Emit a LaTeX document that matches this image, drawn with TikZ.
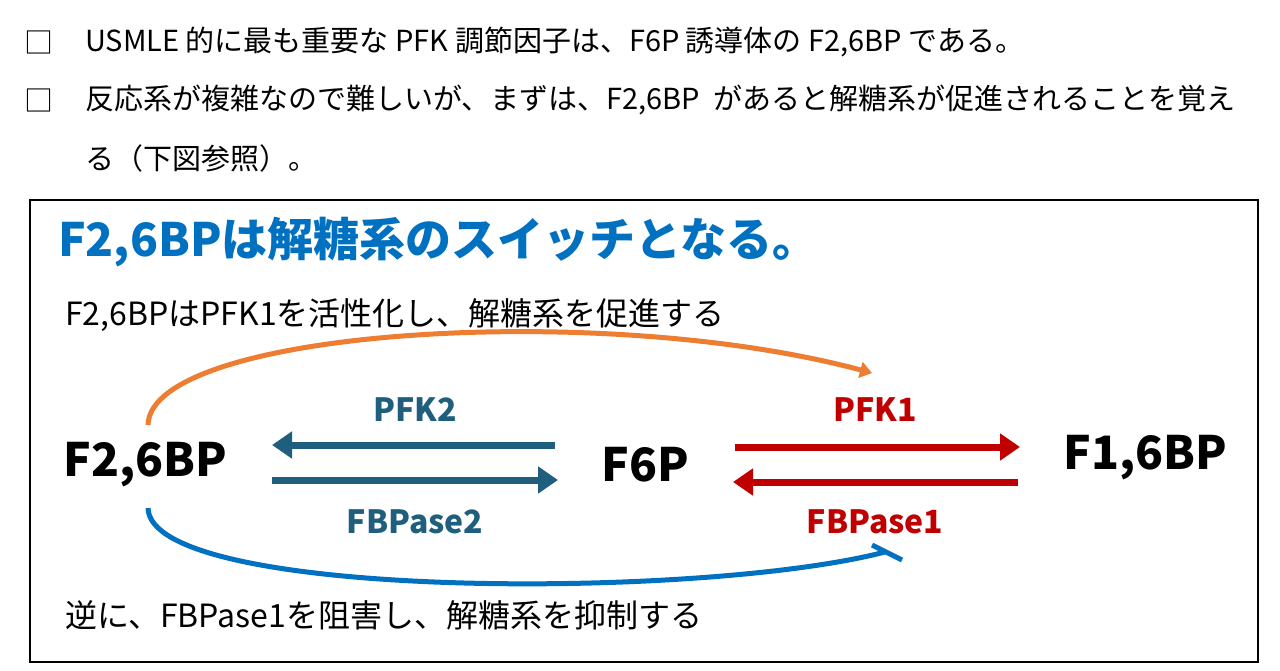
\documentclass[tikz,border=0pt]{standalone}
\usepackage{fontspec}
\setmainfont{Noto Sans CJK JP}
\usetikzlibrary{arrows.meta}
\definecolor{tblue}{RGB}{0,112,192}
\definecolor{teal2}{RGB}{31,95,125}
\definecolor{dred}{RGB}{192,0,0}
\definecolor{orng}{RGB}{237,125,49}
\tikzset{x=1pt,y=-1pt,
 txt/.style={anchor=west,inner sep=0,font=\fontsize{29}{32}\selectfont},
 mol/.style={font=\bfseries\fontsize{46}{50}\selectfont,inner sep=0},
 lab/.style={font=\bfseries\fontsize{32}{36}\selectfont,inner sep=0},
 tarr/.style={line width=7pt,-{Triangle[length=20pt,width=26pt]}},
}
\begin{document}
\begin{tikzpicture}
\useasboundingbox (0,0) rectangle (1280,670);
\node[txt] (c1) at (24,42) {□};
\node[txt] (l1) at (85,42) {USMLE 的に最も重要な PFK 調節因子は、F6P 誘導体の F2,6BP である。};
\node[txt] (c2) at (24,100) {□};
\node[txt] (l2) at (85,100) {反応系が複雑なので難しいが、まずは、F2,6BP\ \ があると解糖系が促進されることを覚え};
\node[txt] (l3) at (85,158) {る（下図参照）。};
\draw[line width=1.5pt] (30,200) rectangle (1258,662);
\node[anchor=west,inner sep=0,text=tblue,font=\bfseries\fontsize{46}{50}\selectfont] (tt) at (58,242) {F2,6BPは解糖系のスイッチとなる。};
\node[anchor=west,inner sep=0,font=\fontsize{32}{36}\selectfont] (a1) at (65,315) {F2,6BPはPFK1を活性化し、解糖系を促進する};
\node[anchor=west,inner sep=0,font=\fontsize{32}{36}\selectfont] (a2) at (65,615) {逆に、FBPase1を阻害し、解糖系を抑制する};
\node[mol] (f26) at (145,465) {F2,6BP};
\node[mol] (f6p) at (645,465) {F6P};
\node[mol] (f16) at (1145,458) {F1,6BP};
\coordinate (t1) at (555,445); \coordinate (t2) at (272,445);
\coordinate (t3) at (272,480); \coordinate (t4) at (558,480);
\draw[tarr,teal2] (t1) -- (t2);
\draw[tarr,teal2] (t3) -- (t4);
\coordinate (r1) at (735,447); \coordinate (r2) at (1020,447);
\coordinate (r3) at (1018,482); \coordinate (r4) at (733,482);
\draw[tarr,dred] (r1) -- (r2);
\draw[tarr,dred] (r3) -- (r4);
\node[lab,text=teal2] (pfk2) at (415,410) {PFK2};
\node[lab,text=teal2] (fb2) at (415,522) {FBPase2};
\node[lab,text=dred] (pfk1) at (875,410) {PFK1};
\node[lab,text=dred] (fb1) at (875,522) {FBPase1};
\coordinate (o1) at (148,425); \coordinate (o2) at (872,373);
\draw[orng,line width=5pt,-{Triangle[length=12pt,width=16pt]}] (o1) .. controls (150,330) and (600,300) .. (o2);
\coordinate (b1) at (148,508); \coordinate (b2) at (885,552);
\draw[tblue,line width=5pt] (b1) .. controls (150,600) and (700,600) .. (b2);
\draw[tblue,line width=5pt] (872,545) -- (902,560);
\end{tikzpicture}
\end{document}
